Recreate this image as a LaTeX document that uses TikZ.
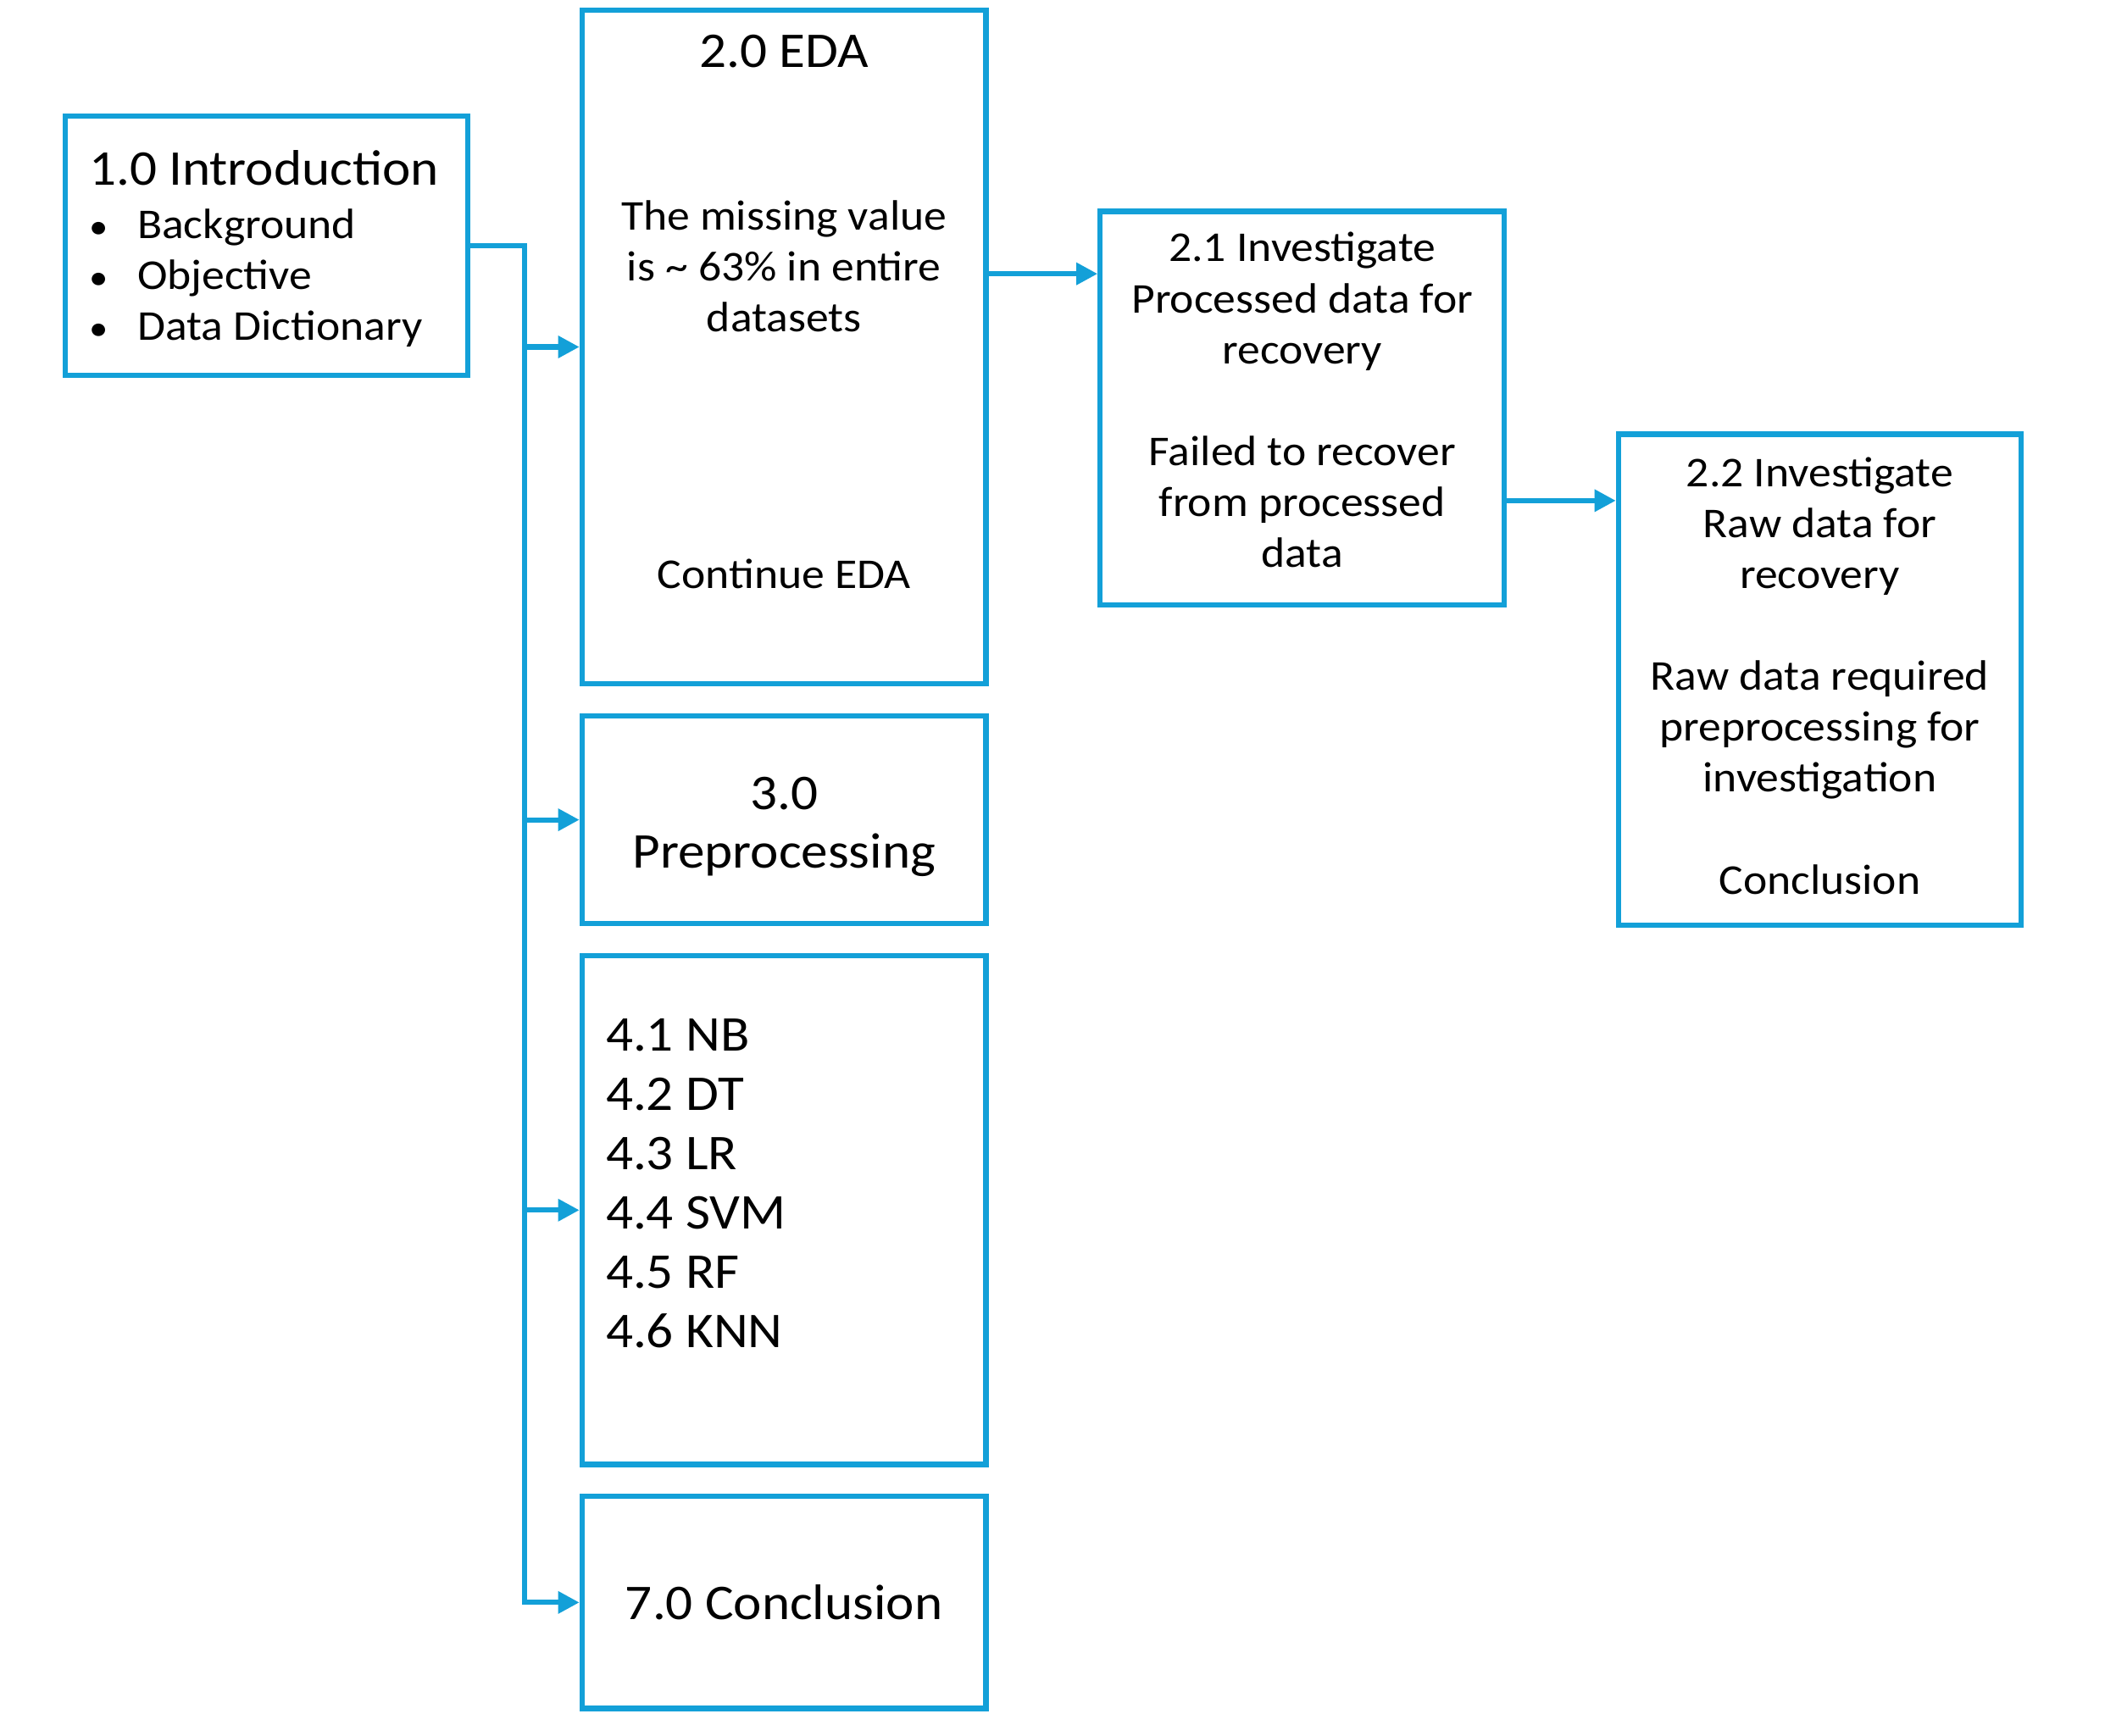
\documentclass[tikz,border=0pt]{standalone}
\usepackage{fontspec}
\setmainfont{Carlito}[FakeStretch=1.07]
\usepackage{xcolor}
\usepackage{tikz}
\usetikzlibrary{positioning, arrows.meta}
\definecolor{linkblue}{RGB}{19,160,216}
\newcommand{\itemdot}{\makebox[0.72cm][l]{\fontsize{15}{15}\selectfont\textbullet}}
\tikzset{
  box/.style={draw=linkblue, line width=2.2pt, inner sep=0pt, minimum width=6.02cm},
  big/.style={inner sep=0pt, anchor=base, align=center, font=\fontsize{21.2}{25.1}\selectfont},
  body/.style={inner sep=0pt, anchor=base, align=center, font=\fontsize{18}{21.6}\selectfont},
  link/.style={draw=linkblue, line width=2.2pt},
  flow/.style={link, -{Triangle[length=9pt, width=9pt]}},
}

\begin{document}
\begin{tikzpicture}[x=0.02cm, y=-0.02cm, node distance=0.4cm]
  \useasboundingbox (0,0) rectangle (1568,1293);
  % boxes
  \node[box, minimum width=6cm, minimum height=3.86cm] (intro) at (198.5,183) {};
  \node[box, minimum height=10.04cm] (eda) at (584,258.5) {};
  \node[box, minimum height=3.1cm, below=of eda] (prep) {};
  \node[box, minimum height=7.58cm, below=of prep] (models) {};
  \node[box, minimum height=3.16cm, below=of models] (concl) {};
  \node[box, minimum height=5.86cm] (inv1) at (970,304) {};
  \node[box, minimum width=6cm, minimum height=7.32cm] (inv2) at (1355.5,506.5) {};
  % texts (multi-line nodes sit on their last baseline)
  \node[big, anchor=base west] (introtitle) at (66,137.8) {1.0 Introduction};
  \node[body, anchor=base west, align=left] (introlist) at (66,253.6)
    {\itemdot Background\\ \itemdot Objective\\ \itemdot Data Dictionary};
  \node[big] (edatitle) at (584,50.5) {2.0 EDA};
  \node[body] (edamsg) at (584,247) {The missing value\\is \textasciitilde{} 63\% in entire\\datasets};
  \node[body] (edanext) at (584,438.2) {Continue EDA};
  \node[big] (preptxt) at (584,647) {3.0\\Preprocessing};
  \node[big, anchor=base west, align=left] (modeltxt) at (451,1003.8)
    {4.1 NB\\4.2 DT\\4.3 LR\\4.4 SVM\\4.5 RF\\4.6 KNN};
  \node[big] (concltxt) at (584,1206.9) {7.0 Conclusion};
  \node[body] (inv1txt) at (970,422.7)
    {2.1 Investigate\\Processed data for\\recovery\\[21.6pt]Failed to recover\\from processed\\data};
  \node[body] (inv2txt) at (1355.5,666)
    {2.2 Investigate\\Raw data for\\recovery\\[21.6pt]Raw data required\\preprocessing for\\investigation\\[21.6pt]Conclusion};
  % connectors
  \coordinate (bus) at (391,183);
  \draw[flow] (intro.east) -- (bus) |- (concl.west);
  \foreach \n in {eda, prep, models} \draw[flow] (bus |- \n.west) -- (\n.west);
  \draw[flow] (eda.east |- 0,204) -- (inv1.west |- 0,204);
  \draw[flow] (inv1.east |- 0,373) -- (inv2.west |- 0,373);
\end{tikzpicture}
\end{document}
